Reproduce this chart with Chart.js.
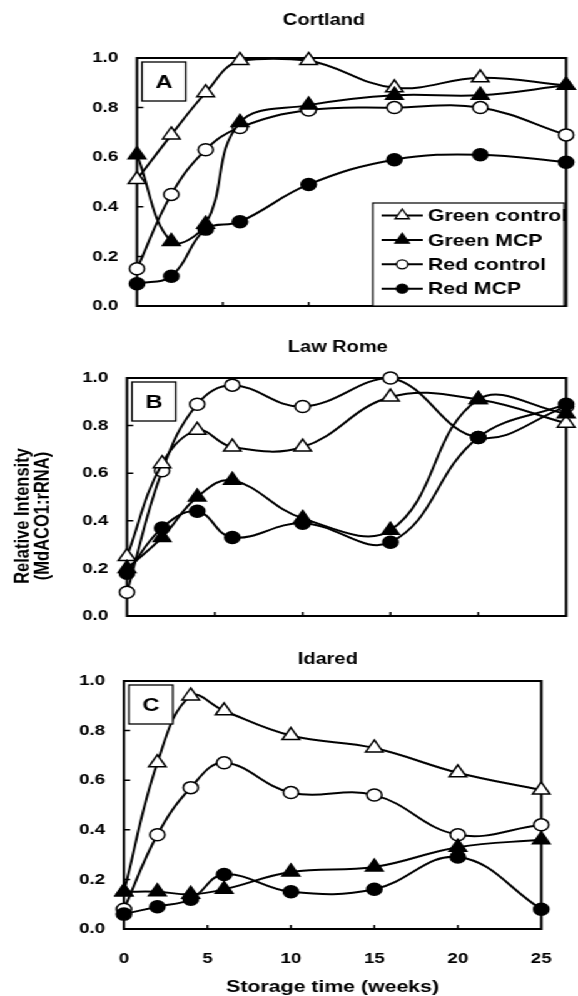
<!DOCTYPE html>
<html>
<head>
<meta charset="utf-8">
<title>MdACO1 expression in storage</title>
<script src="https://cdn.jsdelivr.net/npm/chart.js@4.4.1/dist/chart.umd.min.js"></script>
<style>
  html, body { margin: 0; padding: 0; background: #fff; overflow: hidden; }
  /* the source figure is stretched sideways, so draw narrow and widen */
  #wrap { position: relative; width: 462px; height: 996px; transform: scaleX(1.2511); transform-origin: 0 0; }
  #wrap canvas { position: absolute; left: 0; }
</style>
</head>
<body>
<div id="wrap">
  <canvas id="panelA" width="462" height="330" style="top:0px"></canvas>
  <canvas id="panelB" width="462" height="310" style="top:330px"></canvas>
  <canvas id="panelC" width="462" height="356" style="top:640px"></canvas>
</div>
<script>
// storage time, weeks
var weeks = [0, 2, 4, 6, 10, 15, 20, 25];
var seriesNames = ['Green control', 'Green MCP', 'Red control', 'Red MCP'];
var yTickValues = [0, 0.2, 0.4, 0.6, 0.8, 1.0];
var xTickValues = [0, 5, 10, 15, 20, 25];

// A - Cortland
var cortlandGreenControl = [0.51, 0.69, 0.86, 0.99, 0.99, 0.88, 0.92, 0.89];
var cortlandGreenMCP     = [0.61, 0.26, 0.33, 0.74, 0.81, 0.85, 0.85, 0.89];
var cortlandRedControl   = [0.15, 0.45, 0.63, 0.72, 0.79, 0.80, 0.80, 0.69];
var cortlandRedMCP       = [0.09, 0.12, 0.31, 0.34, 0.49, 0.59, 0.61, 0.58];

// B - Law Rome
var lawRomeGreenControl = [0.25, 0.64, 0.78, 0.71, 0.71, 0.92, 0.91, 0.81];
var lawRomeGreenMCP     = [0.20, 0.33, 0.50, 0.57, 0.41, 0.36, 0.91, 0.85];
var lawRomeRedControl   = [0.10, 0.61, 0.89, 0.97, 0.88, 1.00, 0.75, 0.88];
var lawRomeRedMCP       = [0.18, 0.37, 0.44, 0.33, 0.39, 0.31, 0.75, 0.89];

// C - Idared
var idaredGreenControl = [0.15, 0.67, 0.94, 0.88, 0.78, 0.73, 0.63, 0.56];
var idaredGreenMCP     = [0.15, 0.15, 0.14, 0.16, 0.23, 0.25, 0.33, 0.36];
var idaredRedControl   = [0.08, 0.38, 0.57, 0.67, 0.55, 0.54, 0.38, 0.42];
var idaredRedMCP       = [0.06, 0.09, 0.12, 0.22, 0.15, 0.16, 0.29, 0.08];

var FONT = "'Liberation Sans', Arial, sans-serif";
Chart.defaults.font.family = FONT;
Chart.defaults.font.weight = 'bold';
Chart.defaults.color = '#000';

// marker look per series (same order as seriesNames)
var markers = [
  { style: 'triangle', fill: '#fff', r: 8, order: 3 },
  { style: 'triangle', fill: '#000', r: 8, order: 1 },
  { style: 'circle',   fill: '#fff', r: 6, order: 4 },
  { style: 'circle',   fill: '#000', r: 6, order: 2 }
];

function pairs(vals) {
  return vals.map(function (v, i) { return { x: weeks[i], y: v }; });
}

function buildDatasets(lists) {
  return lists.map(function (vals, i) {
    var m = markers[i];
    return {
      label: seriesNames[i],
      data: pairs(vals),
      borderColor: '#000',
      borderWidth: 2,
      pointStyle: m.style,
      pointRadius: m.r,
      pointBackgroundColor: m.fill,
      pointBorderColor: '#000',
      pointBorderWidth: 1.5,
      tension: 0.4,
      fill: false,
      clip: false,
      order: m.order
    };
  });
}

function drawMarker(ctx, m, x, y, r) {
  ctx.beginPath();
  if (m.style === 'triangle') {
    ctx.moveTo(x, y - r);
    ctx.lineTo(x + 0.866 * r, y + 0.5 * r);
    ctx.lineTo(x - 0.866 * r, y + 0.5 * r);
    ctx.closePath();
  } else {
    ctx.arc(x, y, r, 0, Math.PI * 2);
  }
  ctx.fillStyle = m.fill;
  ctx.fill();
  ctx.stroke();
}

var panelDecor = {
  id: 'panelDecor',
  beforeDatasetsDraw: function (chart) {
    var ctx = chart.ctx, a = chart.chartArea;
    var xs = chart.scales.x, ys = chart.scales.y;
    ctx.save();
    ctx.strokeStyle = '#000';
    ctx.lineWidth = 2;
    ctx.strokeRect(a.left, a.top, a.right - a.left, a.bottom - a.top);
    // small inward ticks
    ctx.lineWidth = 1.5;
    ctx.beginPath();
    ys.ticks.forEach(function (t) {
      if (t.value > 0 && t.value < 1) {
        var py = ys.getPixelForValue(t.value);
        ctx.moveTo(a.left, py); ctx.lineTo(a.left + 5, py);
      }
    });
    xs.ticks.forEach(function (t) {
      if (t.value > 0 && t.value < 25) {
        var px = xs.getPixelForValue(t.value);
        ctx.moveTo(px, a.bottom); ctx.lineTo(px, a.bottom - 4);
      }
    });
    ctx.stroke();
    ctx.restore();
  },
  afterDraw: function (chart, args, opts) {
    var ctx = chart.ctx, a = chart.chartArea;
    ctx.save();
    ctx.fillStyle = '#000';
    ctx.strokeStyle = '#000';
    ctx.textBaseline = 'middle';

    // panel title
    ctx.textAlign = 'center';
    ctx.font = 'bold 16px ' + FONT;
    ctx.fillText(opts.title, opts.titleX, opts.titleY);

    // letter box
    var bx = a.left + 4, by = a.top + 4;
    ctx.fillStyle = '#fff';
    ctx.fillRect(bx, by, 35, 39);
    ctx.lineWidth = 1.3;
    ctx.strokeRect(bx, by, 35, 39);
    ctx.fillStyle = '#000';
    ctx.font = 'bold 19px ' + FONT;
    ctx.fillText(opts.letter, bx + 17.5, by + 20.5);

    // legend (panel A only)
    if (opts.legend) {
      var lx1 = 298, lx2 = a.right - 1.5, ly1 = 203, ly2 = a.bottom;
      ctx.fillStyle = '#fff';
      ctx.fillRect(lx1, ly1, lx2 - lx1, ly2 - ly1);
      ctx.lineWidth = 1.2;
      ctx.strokeRect(lx1, ly1, lx2 - lx1, ly2 - ly1);
      ctx.textAlign = 'left';
      ctx.font = 'bold 17px ' + FONT;
      seriesNames.forEach(function (name, i) {
        var ry = ly1 + 12.5 + i * 24.4;
        ctx.lineWidth = 2;
        ctx.beginPath();
        ctx.moveTo(305, ry); ctx.lineTo(338, ry);
        ctx.stroke();
        ctx.lineWidth = 1.3;
        var m = markers[i];
        drawMarker(ctx, m, 321.5, ry, m.style === 'triangle' ? 6.5 : 4.5);
        ctx.fillStyle = '#000';
        ctx.fillText(name, 342, ry + 1);
      });
    }

    // shared y-axis title (drawn on the middle panel)
    if (opts.yTitle) {
      ctx.textAlign = 'center';
      ctx.font = 'bold 16.5px ' + FONT;
      opts.yTitle.lines.forEach(function (line, i) {
        ctx.save();
        ctx.translate(opts.yTitle.x[i], opts.yTitle.y);
        ctx.rotate(-Math.PI / 2);
        ctx.fillText(line, 0, 0);
        ctx.restore();
      });
    }
    ctx.restore();
  }
};

function makePanel(id, lists, cfg) {
  return new Chart(document.getElementById(id), {
    type: 'line',
    data: { datasets: buildDatasets(lists) },
    plugins: [panelDecor],
    options: {
      responsive: false,
      animation: false,
      events: [],
      layout: { padding: cfg.padding },
      scales: {
        x: {
          type: 'linear',
          min: 0, max: 25,
          afterBuildTicks: function (s) { s.ticks = xTickValues.map(function (v) { return { value: v }; }); },
          grid: { display: false, drawTicks: false },
          border: { display: false },
          ticks: { display: cfg.showX, padding: 21, font: { size: 15, weight: 'bold' } },
          title: {
            display: cfg.showX,
            text: 'Storage time (weeks)',
            font: { size: 17, weight: 'bold', lineHeight: 1 },
            padding: { top: 0, bottom: 0 }
          },
          afterFit: function (s) { s.height = cfg.xHeight; }
        },
        y: {
          min: 0, max: 1,
          afterBuildTicks: function (s) { s.ticks = yTickValues.map(function (v) { return { value: v }; }); },
          grid: { display: false, drawTicks: false },
          border: { display: false },
          ticks: {
            padding: 15,
            font: { size: 15, weight: 'bold' },
            callback: function (v) { return Number(v).toFixed(1); }
          },
          afterFit: function (s) { s.width = 50; }
        }
      },
      plugins: {
        legend: { display: false },
        tooltip: { enabled: false },
        panelDecor: cfg.decor
      }
    }
  });
}

makePanel('panelA',
  [cortlandGreenControl, cortlandGreenMCP, cortlandRedControl, cortlandRedMCP],
  {
    padding: { left: 59.5, right: 6.4, top: 58, bottom: 23 },
    showX: false, xHeight: 0,
    decor: { title: 'Cortland', titleX: 259, titleY: 21, letter: 'A', legend: true }
  });

makePanel('panelB',
  [lawRomeGreenControl, lawRomeGreenMCP, lawRomeRedControl, lawRomeRedMCP],
  {
    padding: { left: 51.5, right: 8, top: 48, bottom: 15 },
    showX: false, xHeight: 0,
    decor: {
      title: 'Law Rome', titleX: 270, titleY: 18, letter: 'B',
      yTitle: { lines: ['Relative Intensity', '(MdACO1:rRNA)'], x: [18, 34.5], y: 186 }
    }
  });

makePanel('panelC',
  [idaredGreenControl, idaredGreenMCP, idaredRedControl, idaredRedMCP],
  {
    padding: { left: 49.1, right: 11.2, top: 41, bottom: 0 },
    showX: true, xHeight: 67,
    decor: { title: 'Idared', titleX: 262, titleY: 20, letter: 'C' }
  });
</script>
</body>
</html>
